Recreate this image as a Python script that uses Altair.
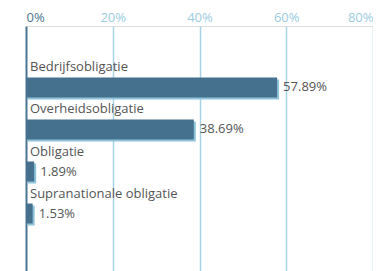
import altair as alt
import pandas as pd

categories = ["Bedrijfsobligatie", "Overheidsobligatie", "Obligatie", "Supranationale obligatie"]
values = [57.89, 38.69, 1.89, 1.53]
x_ticks = [0, 20, 40, 60, 80]

df = pd.DataFrame({"cat": categories, "val": values})
df["label"] = [f"{v:.2f}%" for v in values]

FONT = "Open Sans"
DARK = "#46718e"
LIGHT = "#8ec4da"
TXT = "#555555"

y_enc = alt.Y("cat:N", sort=categories, axis=None,
              scale=alt.Scale(paddingOuter=0.964, paddingInner=0))

x_enc = alt.X("val:Q",
              scale=alt.Scale(domain=[0, 80], nice=False),
              axis=alt.Axis(orient="top", values=x_ticks, title=None,
                            labelExpr="datum.value + '%'",
                            domain=False, ticks=False, labelPadding=5,
                            labelBaseline="alphabetic",
                            labelFont=FONT, labelFontSize=13,
                            labelColor={"condition": {"test": "datum.value === 0", "value": "#4b7592"}, "value": "#9bcbe0"},
                            gridColor={"condition": {"test": "datum.value === 0", "value": "#4b7592"}, "value": "#a8d3e6"},
                            gridWidth={"condition": {"test": "datum.value === 0", "value": 2}, "value": 1.5},
                            gridOpacity=1))

base = alt.Chart(df)

shadow = base.mark_bar(color=LIGHT, size=20, xOffset=2, yOffset=2).encode(x=x_enc, y=y_enc)
bars = base.mark_bar(color=DARK, size=20).encode(x="val:Q", y=y_enc)

vals = base.mark_text(align="left", baseline="middle", dx=6, font=FONT, fontSize=13, color=TXT).encode(
    x="val:Q", y=y_enc, text="label:N")

cats = base.mark_text(align="left", baseline="middle", dx=4, dy=-20, font=FONT, fontSize=13, color=TXT).encode(
    x=alt.datum(0), y=y_enc, text="cat:N")

chart = (shadow + bars + vals + cats).properties(
    width=347, height=249,
    autosize=alt.AutoSizeParams(type="none"),
    padding={"left": 18, "top": 18, "right": 0, "bottom": 0},
).configure_view(stroke=None).configure(background="white")

chart.save("out.html", embed_options={"renderer": "svg", "actions": False})
